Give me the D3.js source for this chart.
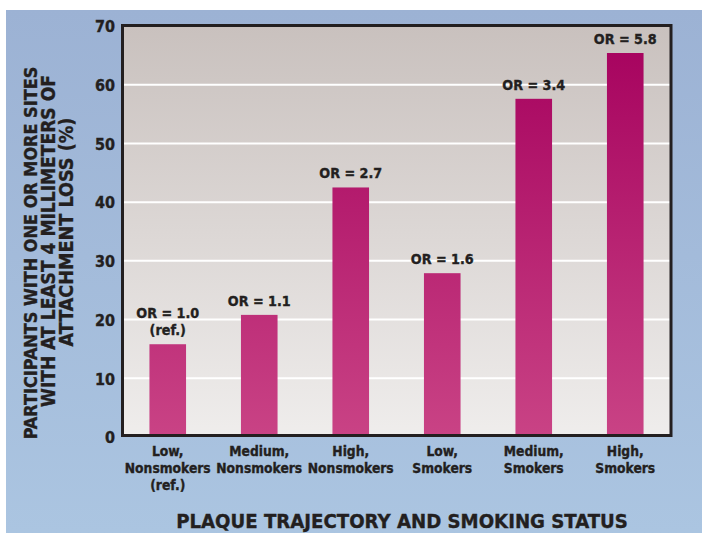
<!DOCTYPE html>
<html><head><meta charset="utf-8">
<script src="https://cdn.jsdelivr.net/npm/d3@7"></script>
<style>
html,body{margin:0;padding:0;background:#fff;}
svg text{font-family:"DejaVu Sans Condensed","DejaVu Sans","Liberation Sans",sans-serif;font-weight:bold;fill:#231f20;stroke:#231f20;stroke-width:0.35px;}
</style></head>
<body>
<svg id="chart" width="702" height="533"></svg>
<script>
const categories = [["Low,","Nonsmokers","(ref.)"],["Medium,","Nonsmokers"],["High,","Nonsmokers"],["Low,","Smokers"],["Medium,","Smokers"],["High,","Smokers"]];
const values = [15.8, 20.8, 42.5, 27.9, 57.6, 65.4];
const orLabels = [["OR = 1.0","(ref.)"],["OR = 1.1"],["OR = 2.7"],["OR = 1.6"],["OR = 3.4"],["OR = 5.8"]];
const yTicks = [0,10,20,30,40,50,60,70];
const yTitle = ["PARTICIPANTS WITH ONE OR MORE SITES","WITH AT LEAST 4 MILLIMETERS OF","ATTACHMENT LOSS (%)"];
const xTitle = "PLAQUE TRAJECTORY AND SMOKING STATUS";

const svg = d3.select("#chart");
const defs = svg.append("defs");
function lg(id, stops){
  const g = defs.append("linearGradient").attr("id",id).attr("x1",0).attr("y1",0).attr("x2",0).attr("y2",1);
  stops.forEach(s=>g.append("stop").attr("offset",s[0]).attr("stop-color",s[1]));
}
lg("bgG",[[0,"#9cb2d4"],[1,"#abc5e1"]]);
lg("plotG",[[0,"#c9c1be"],[1,"#efedec"]]);
defs.append("linearGradient").attr("id","barG").attr("gradientUnits","userSpaceOnUse")
  .attr("x1",0).attr("y1",26).attr("x2",0).attr("y2",437)
  .call(g=>{g.append("stop").attr("offset",0).attr("stop-color","#a5005d");
            g.append("stop").attr("offset",1).attr("stop-color","#c94385");});

function sizeFor(sample, targetW){
  const t = svg.append("text").attr("font-size",20).text(sample);
  const w = t.node().getComputedTextLength();
  t.remove();
  return 20*targetW/w;
}
const fsTick = sizeFor("Nonsmokers", 86);
const fsOR = sizeFor("OR = 1.0", 63);
const fsY = sizeFor("70", 20);

svg.append("rect").attr("x",6).attr("y",10).attr("width",696).attr("height",523).attr("fill","url(#bgG)");

const x = d3.scaleBand().domain(d3.range(categories.length)).range([122,671]).paddingInner(0.6).paddingOuter(0.3);
const y = d3.scaleLinear().domain([0,70]).range([437,26]);

svg.append("rect").attr("x",122).attr("y",y(70)).attr("width",549).attr("height",y(0)-y(70)).attr("fill","url(#plotG)");

svg.append("g").selectAll("line").data(yTicks.filter(t=>t>0&&t<70)).join("line")
  .attr("x1",122).attr("x2",671).attr("y1",d=>y(d)).attr("y2",d=>y(d))
  .attr("stroke","#fff").attr("stroke-width",2);

svg.append("g").selectAll("rect").data(values).join("rect")
  .attr("x",(d,i)=>x(i)).attr("width",x.bandwidth())
  .attr("y",d=>y(d)).attr("height",d=>y(0)-y(d))
  .attr("fill","url(#barG)");

values.forEach((v,i)=>{
  const lines = orLabels[i];
  lines.forEach((l,j)=>{
    svg.append("text").attr("text-anchor","middle").attr("font-size",fsOR)
     .attr("x",x(i)+x.bandwidth()/2)
     .attr("y",y(v)-9-(lines.length-1-j)*17).text(l);
  });
});

svg.append("rect").attr("x",122.5).attr("y",y(70)-0.5).attr("width",671-122.5).attr("height",435.5-(y(70)-0.5))
  .attr("fill","none").attr("stroke","#231f20").attr("stroke-width",3);

const yAxis = d3.axisLeft(y).tickValues(yTicks).tickSize(0).tickPadding(0).tickFormat(d3.format("d"));
const yg = svg.append("g").attr("transform","translate(115,0)").call(yAxis);
yg.select(".domain").remove();
yg.attr("font-family",null).attr("font-size",null);
yg.selectAll("text").attr("font-size",fsY).attr("dy","0.36em").attr("fill",null);

const xAxis = d3.axisBottom(x).tickSize(0).tickFormat("");
const xg = svg.append("g").attr("transform","translate(0,437)").call(xAxis);
xg.select(".domain").remove();
xg.attr("font-family",null).attr("font-size",null);
xg.selectAll(".tick").each(function(i){
  const g = d3.select(this);
  categories[i].forEach((l,j)=>g.append("text").attr("text-anchor","middle").attr("font-size",fsTick)
     .attr("x",0).attr("y",19+j*17).text(l));
});

function fitText(sel, w){
  const len = sel.node().getComputedTextLength();
  const fs = parseFloat(sel.attr("font-size"));
  sel.attr("font-size", fs*w/len);
}
const xt = svg.append("text").attr("x",402).attr("y",528).attr("text-anchor","middle").attr("font-size",17).text(xTitle);
fitText(xt,452);

const yPos = [[37,253,373],[55,241,332],[73,232,229]];
yTitle.forEach((l,i)=>{
  const t = svg.append("text").attr("transform",`translate(${yPos[i][0]},${yPos[i][1]}) rotate(-90)`)
    .attr("text-anchor","middle").attr("font-size",16).text(l);
  fitText(t,yPos[i][2]);
});
</script>
</body></html>
